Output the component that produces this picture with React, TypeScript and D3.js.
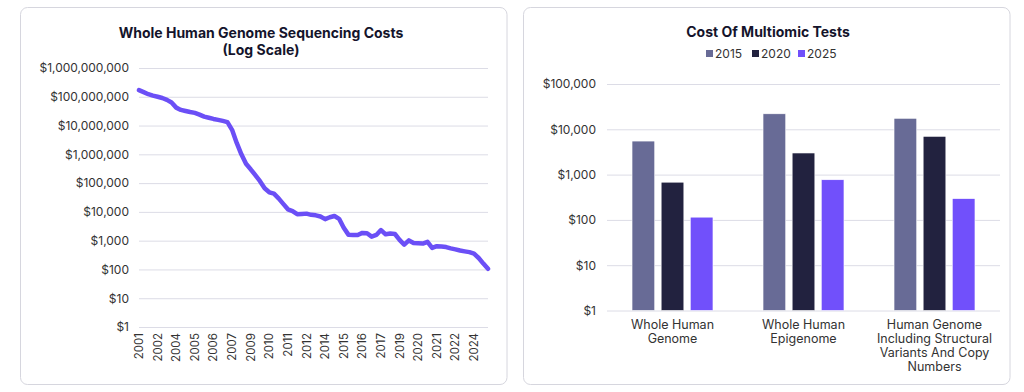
import * as d3 from "d3";
import React, { useEffect, useRef } from "react";

// Whole genome sequencing cost (USD, roughly every 4 months)
const genomeCosts = [
  170000000, 145000000, 123000000, 110000000, 100000000, 91000000, 78000000, 63000000,
  42000000, 35000000, 32000000, 29500000, 27500000, 24000000, 20400000, 18600000,
  17000000, 15800000, 14500000, 13200000, 7100000, 2500000, 1000000, 468000,
  302000, 190000, 117000, 66000, 48000, 43000, 29500, 19000,
  12300, 10700, 8300, 8500, 8700, 7900, 7600, 6900,
  5600, 6500, 7200, 5750, 2800, 1620, 1580, 1580,
  1860, 1820, 1380, 1580, 2340, 1660, 1780, 1700,
  1070, 725, 1020, 830, 810, 795, 910, 560,
  645, 630, 600, 540, 500, 455, 425, 400,
  355, 250, 160, 105,
];
const yearLabels = [
  "2001", "2002", "2004", "2005", "2006", "2007", "2009", "2010", "2011", "2012",
  "2014", "2015", "2016", "2017", "2019", "2020", "2021", "2022", "2024",
];
const leftTicks = [1, 10, 100, 1000, 1e4, 1e5, 1e6, 1e7, 1e8, 1e9];

// Multiomic tests
const categories = [
  "Whole Human\nGenome",
  "Whole Human\nEpigenome",
  "Human Genome\nIncluding Structural\nVariants And Copy\nNumbers",
];
const years = ["2015", "2020", "2025"];
const cost2015 = [5500, 22000, 17500];
const cost2020 = [680, 3000, 7000];
const cost2025 = [115, 770, 295];
const rightTicks = [1, 10, 100, 1000, 1e4, 1e5];

const colors = { "2015": "#686b96", "2020": "#22223f", "2025": "#7150fb" };
const FONT = "Inter, 'Noto Sans', sans-serif";

const App = () => {
  const svgRef = useRef();

  useEffect(() => {
    const svg = d3.select(svgRef.current);
    svg.selectAll("*").remove();
    const fmt = d3.format("$,");

    // panels
    [[20.5, 507], [523.5, 1010]].forEach(([x0, x1]) => {
      svg.append("rect")
        .attr("x", x0).attr("y", 7.5)
        .attr("width", x1 - x0).attr("height", 377)
        .attr("rx", 7)
        .attr("fill", "#fff")
        .attr("stroke", "#d6d6de");
    });

    // ---------- left chart ----------
    const L = svg.append("g");
    const x = d3.scalePoint().domain(d3.range(genomeCosts.length)).range([139, 488]);
    const y = d3.scaleLog().domain([1, 1e9]).range([327, 68]);

    L.append("text")
      .attr("x", 261).attr("y", 38)
      .attr("text-anchor", "middle")
      .attr("font-family", FONT).attr("font-weight", 700).attr("font-size", 14)
      .attr("fill", "#14142b")
      .selectAll("tspan")
      .data(["Whole Human Genome Sequencing Costs", "(Log Scale)"])
      .join("tspan")
      .attr("x", 261)
      .attr("dy", (d, i) => (i === 0 ? 0 : 16.5))
      .text((d) => d);

    const yAxisL = L.append("g")
      .attr("transform", "translate(139,0)")
      .call(d3.axisLeft(y).tickValues(leftTicks).tickFormat(fmt).tickSize(-349).tickPadding(10));
    yAxisL.select(".domain").remove();
    yAxisL.selectAll("line").attr("stroke", "#dcdce6");
    yAxisL.selectAll("text").attr("font-family", FONT).attr("font-size", 12).attr("fill", "#333");

    L.selectAll(".xlab")
      .data(yearLabels)
      .join("text")
      .attr("class", "xlab")
      .attr("transform", (d, i) => `translate(${x(i * 4) + 4},333) rotate(-90)`)
      .attr("text-anchor", "end")
      .attr("font-family", FONT).attr("font-size", 11.5).attr("fill", "#333")
      .text((d) => d);

    const line = d3.line()
      .x((d, i) => x(i))
      .y((d) => y(d));
    L.append("path")
      .datum(genomeCosts)
      .attr("fill", "none")
      .attr("stroke", "#6b4ff6")
      .attr("stroke-width", 4.5)
      .attr("stroke-linejoin", "round")
      .attr("stroke-linecap", "round")
      .attr("d", line);

    // ---------- right chart ----------
    const R = svg.append("g");
    const yR = d3.scaleLog().domain([1, 1e5]).range([310.5, 84]);
    const x0 = d3.scaleBand().domain(categories).range([607, 1000]).paddingInner(0.382).paddingOuter(0.191);
    const x1 = d3.scaleBand().domain(years).range([0, x0.bandwidth()]).paddingInner(0.22);

    R.append("text")
      .attr("x", 768).attr("y", 37)
      .attr("text-anchor", "middle")
      .attr("font-family", FONT).attr("font-weight", 700).attr("font-size", 14)
      .attr("fill", "#14142b")
      .text("Cost Of Multiomic Tests");

    // legend
    const legendX = [706, 752, 798];
    const lg = R.selectAll(".lg").data(years).join("g")
      .attr("class", "lg")
      .attr("transform", (d, i) => `translate(${legendX[i]},58)`);
    lg.append("rect").attr("x", 0).attr("y", -8).attr("width", 7).attr("height", 7)
      .attr("fill", (d) => colors[d]);
    lg.append("text").attr("x", 9).attr("y", 0)
      .attr("font-family", FONT).attr("font-size", 12).attr("fill", "#333")
      .text((d) => d);

    const yAxisR = R.append("g")
      .attr("transform", "translate(607,0)")
      .call(d3.axisLeft(yR).tickValues(rightTicks).tickFormat(fmt).tickSize(-393).tickPadding(11));
    yAxisR.select(".domain").remove();
    yAxisR.selectAll("line").attr("stroke", "#dcdce6");
    yAxisR.selectAll("text").attr("font-family", FONT).attr("font-size", 12).attr("fill", "#333");

    const series = { "2015": cost2015, "2020": cost2020, "2025": cost2025 };
    categories.forEach((c, ci) => {
      const g = R.append("g").attr("transform", `translate(${x0(c)},0)`);
      g.selectAll("rect")
        .data(years)
        .join("rect")
        .attr("x", (d) => x1(d))
        .attr("width", x1.bandwidth())
        .attr("y", (d) => yR(series[d][ci]))
        .attr("height", (d) => yR(1) - yR(series[d][ci]))
        .attr("fill", (d) => colors[d])
        .attr("stroke", "#fff")
        .attr("stroke-width", 0.6);

      R.append("text")
        .attr("text-anchor", "middle")
        .attr("font-family", FONT).attr("font-size", 12.5).attr("fill", "#333")
        .selectAll("tspan")
        .data(c.split("\n"))
        .join("tspan")
        .attr("x", x0(c) + x0.bandwidth() / 2)
        .attr("y", (d, i) => 329 + i * 14)
        .text((d) => d);
    });
  }, []);

  return (
    <svg
      ref={svgRef}
      width={1024}
      height={392}
      style={{ position: "absolute", left: 0, top: 0, background: "#fff" }}
    ></svg>
  );
};

export default App;
